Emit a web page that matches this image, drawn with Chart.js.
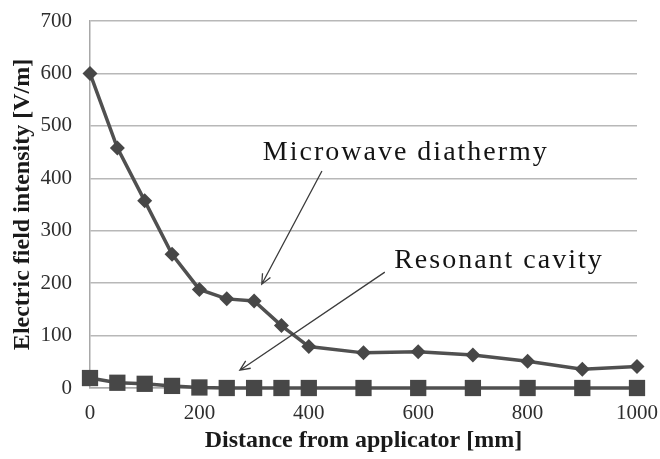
<!DOCTYPE html>
<html>
<head>
<meta charset="utf-8">
<title>Electric field intensity vs distance</title>
<script src="https://cdn.jsdelivr.net/npm/chart.js@4.4.0/dist/chart.umd.min.js"></script>
<style>
  html, body { margin: 0; padding: 0; background: #fff; }
  #wrap { width: 660px; height: 459px; }
</style>
</head>
<body>
<div id="wrap"><canvas id="chart" width="660" height="459"></canvas></div>
<script>
const distances = [0, 50, 100, 150, 200, 250, 300, 350, 400, 500, 600, 700, 800, 900, 1000];
const microwave = [600, 458, 357, 255, 188, 170, 166, 119, 79, 67, 69, 63, 51, 36, 41];
const resonant = [19, 10, 8, 4, 1, 0, 0, 0, 0, 0, 0, 0, 0, 0, 0];
const xTicks = [0, 200, 400, 600, 800, 1000];
const yTicks = [0, 100, 200, 300, 400, 500, 600, 700];

const serif = "'Liberation Serif', 'Times New Roman', serif";

// callout labels with arrows, placed in data units
const callouts = [
  { text: 'Microwave diathermy', tx: 316, ty: 435, from: [424, 414], to: [314, 198] },
  { text: 'Resonant cavity', tx: 556, ty: 229, from: [539, 221], to: [274, 34] }
];

function pts(ys) {
  return distances.map((x, i) => ({ x: x, y: ys[i] }));
}

const calloutPlugin = {
  id: 'callouts',
  afterDatasetsDraw(chart) {
    const { ctx, scales } = chart;
    const X = v => scales.x.getPixelForValue(v);
    const Y = v => scales.y.getPixelForValue(v);
    ctx.save();
    callouts.forEach(c => {
      ctx.font = '28px ' + serif;
      ctx.letterSpacing = '2px';
      ctx.fillStyle = '#141414';
      ctx.textBaseline = 'alphabetic';
      ctx.textAlign = 'left';
      ctx.fillText(c.text, X(c.tx), Y(c.ty));

      const x1 = X(c.from[0]), y1 = Y(c.from[1]);
      const x2 = X(c.to[0]), y2 = Y(c.to[1]);
      ctx.strokeStyle = '#3c3c3c';
      ctx.lineWidth = 1.3;
      ctx.beginPath();
      ctx.moveTo(x1, y1);
      ctx.lineTo(x2, y2);
      const a = Math.atan2(y2 - y1, x2 - x1);
      const len = 11, spread = 0.42;
      ctx.moveTo(x2 - len * Math.cos(a - spread), y2 - len * Math.sin(a - spread));
      ctx.lineTo(x2, y2);
      ctx.lineTo(x2 - len * Math.cos(a + spread), y2 - len * Math.sin(a + spread));
      ctx.stroke();
    });
    ctx.restore();
  }
};

new Chart(document.getElementById('chart'), {
  type: 'line',
  data: {
    datasets: [
      {
        label: 'Microwave diathermy',
        data: pts(microwave),
        borderColor: '#505050',
        backgroundColor: '#474747',
        borderWidth: 3.5,
        pointStyle: 'rectRot',
        pointRadius: 7.5,
        pointBorderWidth: 0,
        tension: 0
      },
      {
        label: 'Resonant cavity',
        data: pts(resonant),
        borderColor: '#505050',
        backgroundColor: '#474747',
        borderWidth: 3.5,
        pointStyle: 'rect',
        pointRadius: 11.5,
        pointBorderWidth: 0,
        tension: 0
      }
    ]
  },
  options: {
    responsive: false,
    animation: false,
    clip: false,
    layout: { padding: { top: 21, right: 23, left: 0, bottom: 0 } },
    plugins: { legend: { display: false }, tooltip: { enabled: false } },
    scales: {
      x: {
        type: 'linear',
        min: 0,
        max: 1000,
        afterBuildTicks: s => { s.ticks = xTicks.map(v => ({ value: v })); },
        afterFit: s => { s.height = 71; s.paddingLeft = 0; s.paddingRight = 0; },
        grid: { display: false, drawTicks: false },
        border: { color: '#a8a8a8', width: 1.5 },
        ticks: {
          color: '#2e2e2e',
          font: { family: serif, size: 21 },
          padding: 13,
          maxRotation: 0,
          callback: v => String(v)
        },
        title: {
          display: true,
          text: 'Distance from applicator [mm]',
          color: '#1a1a1a',
          font: { family: serif, size: 24, weight: 'bold' },
          padding: { top: 0, bottom: 4 }
        }
      },
      y: {
        min: 0,
        max: 700,
        afterBuildTicks: s => { s.ticks = yTicks.map(v => ({ value: v })); },
        afterFit: s => { s.width = 90; s.paddingTop = 0; s.paddingBottom = 0; },
        grid: { color: '#b8b8b8', lineWidth: 1.5, drawTicks: false },
        border: { color: '#a8a8a8', width: 1.5 },
        ticks: {
          color: '#2e2e2e',
          font: { family: serif, size: 21 },
          padding: 18,
          callback: v => String(v)
        },
        title: {
          display: true,
          text: 'Electric field intensity [V/m]',
          color: '#1a1a1a',
          font: { family: serif, size: 24, weight: 'bold' },
          padding: { top: 8, bottom: 0 }
        }
      }
    }
  },
  plugins: [calloutPlugin]
});
</script>
</body>
</html>
